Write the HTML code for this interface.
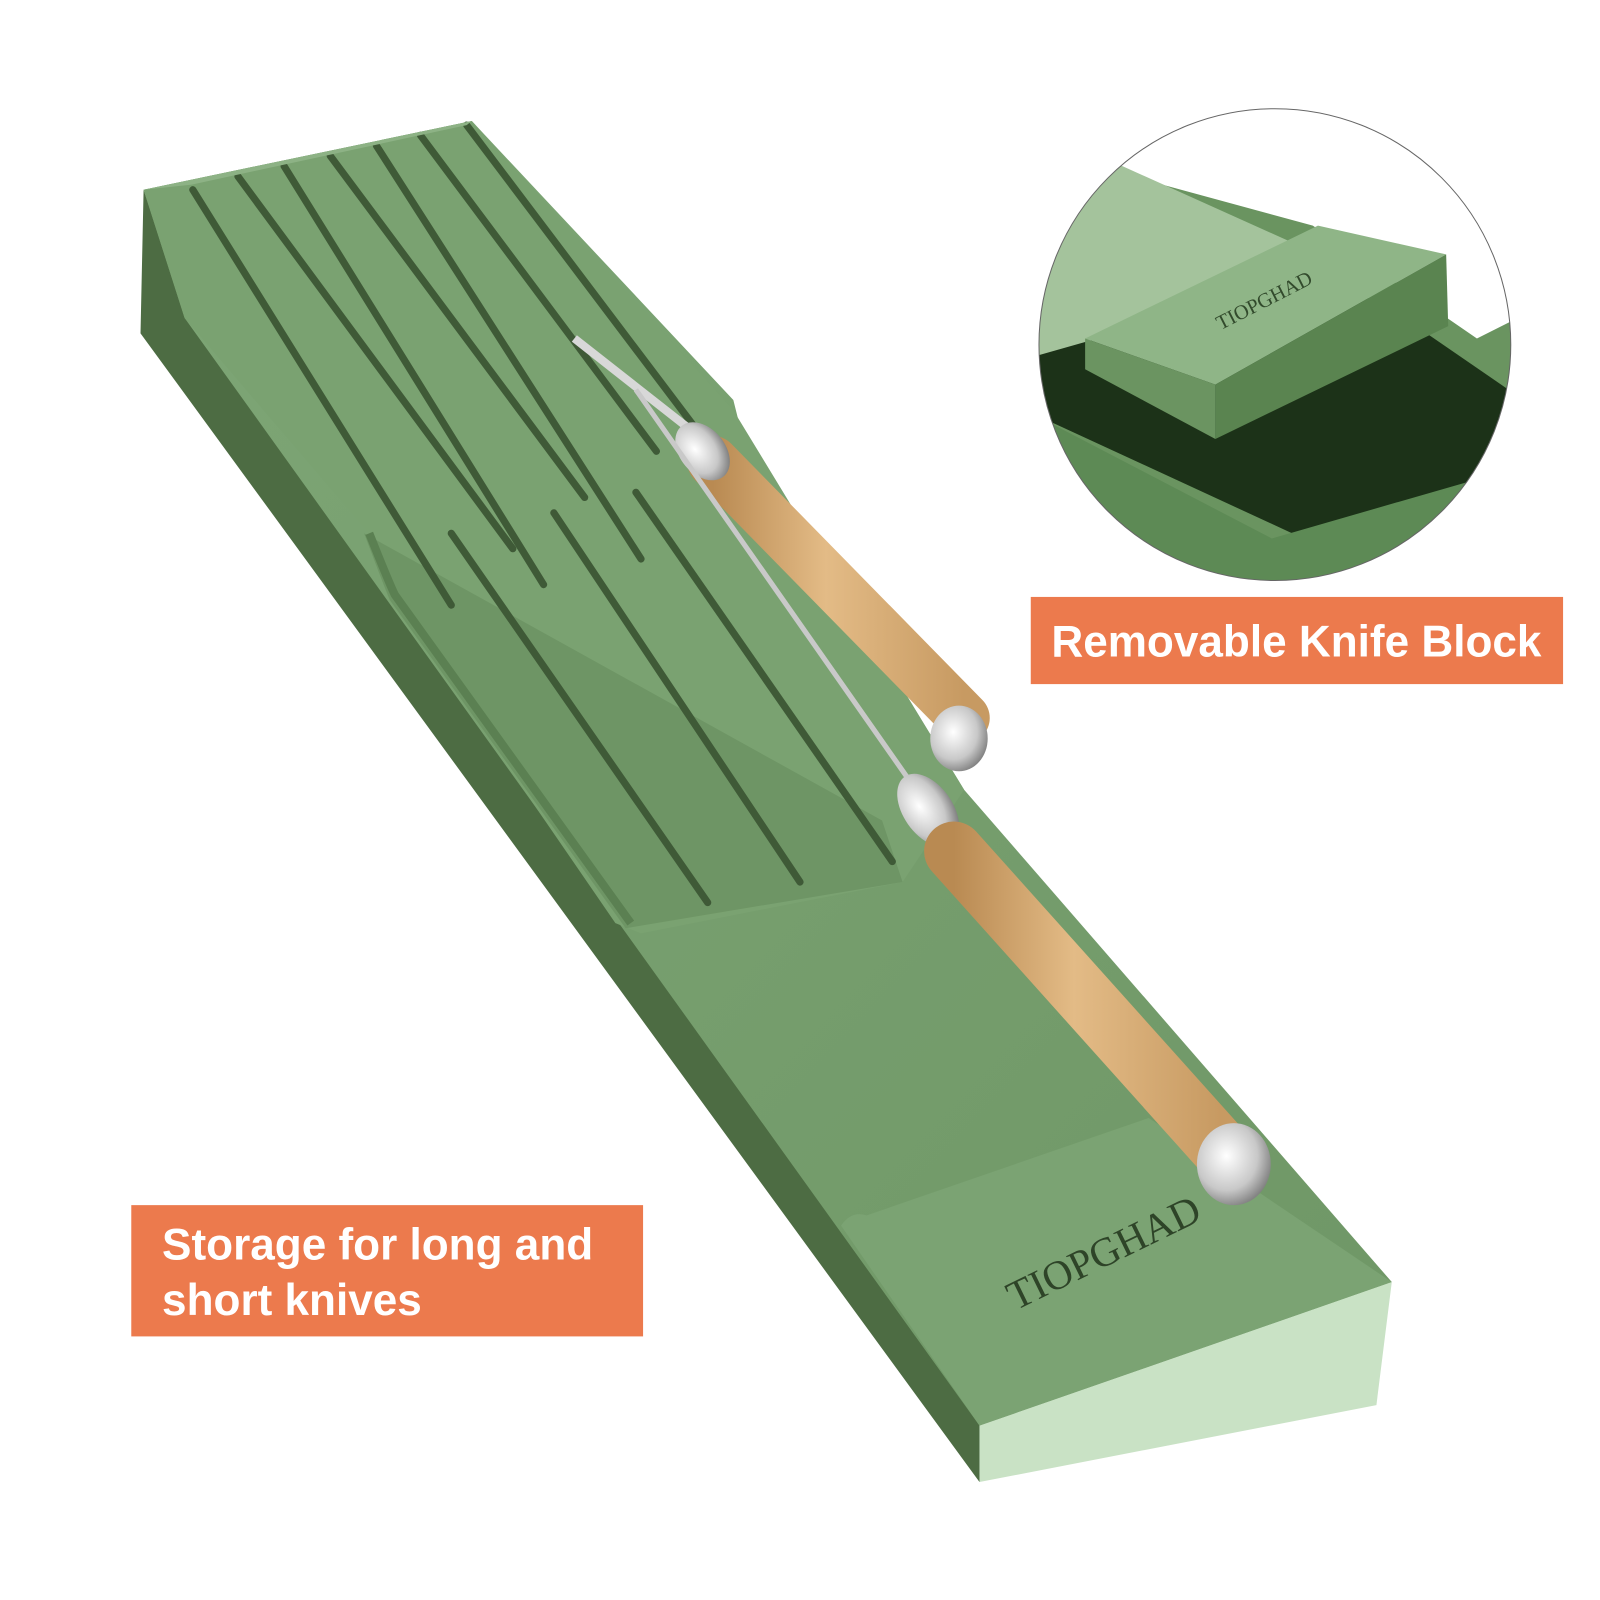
<!DOCTYPE html>
<html><head><meta charset="utf-8"><style>
html,body{margin:0;padding:0;background:#fff;}
svg{display:block;}
</style></head><body>
<svg width="1600" height="1600" viewBox="0 0 1560 1560" xmlns="http://www.w3.org/2000/svg">
<defs>
<linearGradient id="wood" x1="0" y1="0" x2="1" y2="0">
<stop offset="0" stop-color="#b98a52"/><stop offset="0.45" stop-color="#e3bb86"/><stop offset="1" stop-color="#c79a62"/></linearGradient>
<radialGradient id="steel" cx="0.4" cy="0.4" r="0.7"><stop offset="0" stop-color="#ffffff"/><stop offset="0.6" stop-color="#c8c8c8"/><stop offset="1" stop-color="#6d6d6d"/></radialGradient>
<linearGradient id="floor" x1="0" y1="0" x2="1" y2="1"><stop offset="0" stop-color="#7ea676"/><stop offset="1" stop-color="#6f9766"/></linearGradient>
<clipPath id="cc"><circle cx="1243" cy="336" r="230"/></clipPath>
</defs>
<polygon points="140,185 137,325 955,1445 955,1385 180,300" fill="#4d6c43"/>
<polygon points="140,185 460,118 715,390 720,410 940,770 1357,1250 955,1390 180,310" fill="url(#floor)"/>
<polygon points="180,310 360,520 380,580 600,900 625,910 880,860 940,770 715,400 460,118 140,185" fill="#7aa271"/>
<path d="M355,520 Q370,560 380,585 L610,905 L880,860 L860,800 Z" fill="#6e9565"/>
<path d="M360,520 Q380,570 385,580 L615,900" stroke="#5b8052" stroke-width="8" fill="none"/>
<g stroke="#3f5a37" stroke-width="7" fill="none" stroke-linecap="round">
<line x1="188" y1="185" x2="440" y2="590"/>
<line x1="232" y1="172" x2="500" y2="535"/>
<line x1="277" y1="162" x2="530" y2="570"/>
<line x1="322" y1="152" x2="570" y2="485"/>
<line x1="367" y1="142" x2="625" y2="545"/>
<line x1="410" y1="132" x2="640" y2="440"/>
<line x1="455" y1="122" x2="680" y2="420"/>
<line x1="440" y1="520" x2="690" y2="880"/>
<line x1="540" y1="500" x2="780" y2="860"/>
<line x1="620" y1="480" x2="870" y2="840"/>
</g>
<polygon points="140,185 460,118 455,122 187,180" fill="#8db285"/>
<polygon points="955,1390 1357,1250 1342,1370 955,1445" fill="#c9e2c5"/>
<path d="M820,1195 Q830,1180 845,1185 L1120,1090 L1357,1250 L955,1390 Z" fill="#7ba373"/>
<text x="0" y="0" transform="translate(990,1278) rotate(-26)" font-family="Liberation Serif,serif" font-size="40" fill="#2e4428">TIOPGHAD</text>
<line x1="560" y1="330" x2="700" y2="440" stroke="#d8d8d8" stroke-width="8"/>
<line x1="695" y1="450" x2="940" y2="700" stroke="url(#wood)" stroke-width="50" stroke-linecap="round"/>
<ellipse cx="685" cy="440" rx="22" ry="32" fill="url(#steel)" transform="rotate(-40 685 440)"/>
<ellipse cx="935" cy="720" rx="28" ry="32" fill="url(#steel)"/>
<line x1="620" y1="380" x2="900" y2="780" stroke="#c9c9c9" stroke-width="5"/>
<ellipse cx="905" cy="790" rx="24" ry="40" fill="url(#steel)" transform="rotate(-35 905 790)"/>
<line x1="930" y1="830" x2="1190" y2="1120" stroke="url(#wood)" stroke-width="58" stroke-linecap="round"/>
<ellipse cx="1203" cy="1135" rx="36" ry="40" fill="url(#steel)"/>
<g clip-path="url(#cc)">
<rect x="1000" y="100" width="500" height="500" fill="#6a9460"/>
<polygon points="1000,100 1500,100 1500,300 1440,330 1280,220 1060,160 1000,200" fill="#fff"/>
<polygon points="1000,200 1090,160 1290,250 1080,330 1000,350" fill="#a4c39c"/>
<polygon points="1000,350 1070,330 1340,290 1500,400 1500,460 1260,520 1000,400" fill="#1c3218"/>
<polygon points="1000,400 1240,525 1500,450 1500,600 1000,600" fill="#5d8a55"/>
<polygon points="1058,330 1285,220 1410,248 1185,375" fill="#8fb587"/>
<polygon points="1058,330 1185,375 1185,428 1058,360" fill="#6b9461"/>
<polygon points="1185,375 1410,248 1412,318 1185,428" fill="#5a8450"/>
<text transform="translate(1190,322) rotate(-27)" font-family="Liberation Serif,serif" font-size="20" fill="#324a2c">TIOPGHAD</text>
</g>
<circle cx="1243" cy="336" r="230" fill="none" stroke="#666" stroke-width="1"/>
<rect x="1005" y="582" width="519" height="85" fill="#ec7a4d"/>
<text x="1264" y="640" text-anchor="middle" font-family="Liberation Sans,sans-serif" font-weight="bold" font-size="43" fill="#fff">Removable Knife Block</text>
<rect x="128" y="1175" width="499" height="128" fill="#ec7a4d"/>
<text x="158" y="1228" font-family="Liberation Sans,sans-serif" font-weight="bold" font-size="43" fill="#fff">Storage for long and</text>
<text x="158" y="1282" font-family="Liberation Sans,sans-serif" font-weight="bold" font-size="43" fill="#fff">short knives</text>
</svg>
</body></html>
